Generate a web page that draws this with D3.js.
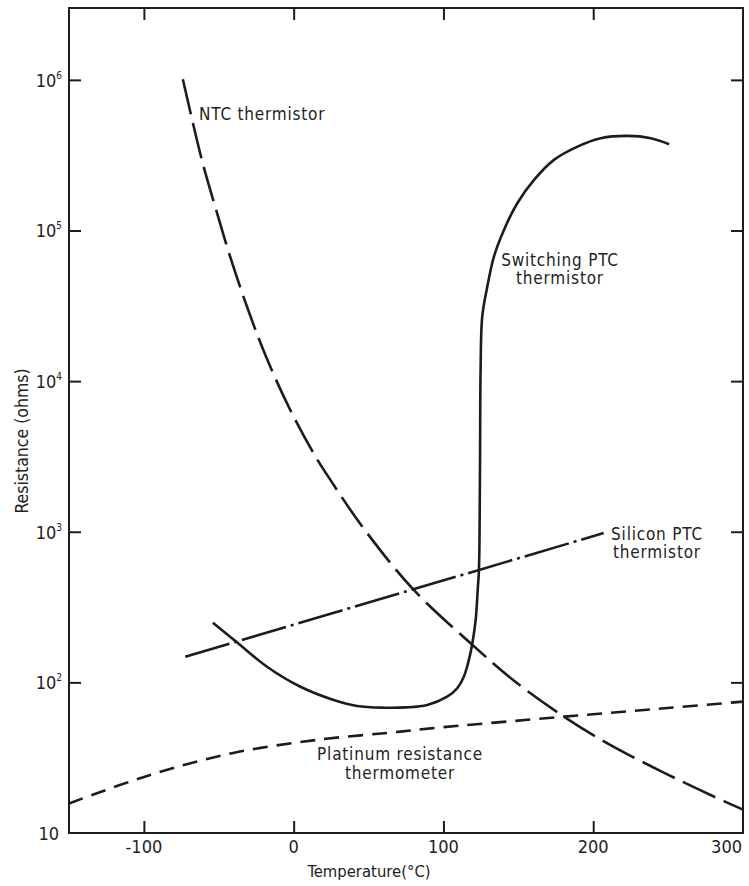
<!DOCTYPE html>
<html>
<head>
<meta charset="utf-8">
<script src="https://cdn.jsdelivr.net/npm/d3@7"></script>
<style>
  html, body { margin: 0; padding: 0; background: #fff; }
  svg { display: block; }
  text { font-family: "DejaVu Sans Condensed", "DejaVu Sans", sans-serif; fill: #222; }
</style>
</head>
<body>
<svg id="chart" width="749" height="886"></svg>
<script>
// Temperature (°C) / resistance (ohms) pairs for each sensor type
const ntcTemp = [-74, -61.3, -52.4, -42.4, -31.2, -18.9, -3.4, 13.3, 24.5, 46.8, 80.2, 118.1, 149.3, 180.5, 209.5, 247.4, 280.8, 300];
const ntcOhms = [1.01e6, 2.94e5, 1.44e5, 6.7e4, 3.13e4, 1.49e4, 6780, 3320, 2210, 1050, 411, 182, 98.6, 59.2, 39.4, 25.1, 17.4, 14.3];

const switchTemp = [-53.9, -38.3, -17.8, 4.5, 26.7, 42.4, 60, 75, 89.2, 102.5, 109.2, 113.6, 117.0, 119.3, 121.5, 123.0, 123.7, 124.4, 124.8, 125.9, 129.3, 133.7, 140.4, 149.3, 160.5, 173.8, 189.5, 205, 222.9, 238.5, 250.7];
const switchOhms = [249, 186, 127, 93.5, 76.4, 69.7, 67.9, 68.2, 70.8, 80.3, 91.4, 109.1, 140.9, 181.9, 259, 431, 557, 2570, 11860, 26800, 42400, 67100, 1.009e5, 1.517e5, 2.167e5, 2.942e5, 3.605e5, 4.1e5, 4.246e5, 4.1e5, 3.74e5];

const siliconTemp = [-72.4, 207];
const siliconOhms = [148, 980];

const platinumTemp = [-150, -95.8, -40.3, 15.6, 71.3, 91.4, 180.5, 247.4, 300];
const platinumOhms = [15.7, 24.3, 34.0, 41.5, 47.1, 49.5, 59.2, 67.3, 74.5];

const xTicks = [-100, 0, 100, 200, 300];
const yTicks = [1e2, 1e3, 1e4, 1e5, 1e6];
const yTickExp = ["2", "3", "4", "5", "6"];

const svg = d3.select("#chart");
const W = 749, H = 886;
const m = { top: 8, right: 6, bottom: 53, left: 69 };
const x = d3.scaleLinear().domain([-150, 300]).range([m.left, W - m.right]);
const y = d3.scaleLog().domain([10, 3e6]).range([H - m.bottom, m.top]);

const ink = "#1c1c1c";

// frame
svg.append("rect")
  .attr("x", m.left).attr("y", m.top)
  .attr("width", W - m.left - m.right).attr("height", H - m.top - m.bottom)
  .attr("fill", "none").attr("stroke", ink).attr("stroke-width", 2);

const tick = 12;
function styleAxis(g) {
  g.select(".domain").remove();
  g.selectAll(".tick line").attr("stroke", ink).attr("stroke-width", 2);
  g.selectAll(".tick text").remove();
}
// inward ticks on all four sides
svg.append("g").attr("transform", `translate(0,${H - m.bottom})`)
  .call(d3.axisBottom(x).tickValues(xTicks.slice(0, -1)).tickSize(-tick)).call(styleAxis);
svg.append("g").attr("transform", `translate(0,${m.top})`)
  .call(d3.axisTop(x).tickValues(xTicks.slice(0, -1)).tickSize(-tick)).call(styleAxis);
svg.append("g").attr("transform", `translate(${m.left},0)`)
  .call(d3.axisLeft(y).tickValues(yTicks).tickSize(-tick)).call(styleAxis);
svg.append("g").attr("transform", `translate(${W - m.right},0)`)
  .call(d3.axisRight(y).tickValues(yTicks).tickSize(-tick)).call(styleAxis);

// x tick labels (the last one is kept inside the page edge)
svg.append("g").selectAll("text").data(xTicks).join("text")
  .attr("x", d => d === 300 ? W - 7 : x(d)).attr("y", 853)
  .attr("text-anchor", d => d === 300 ? "end" : "middle").attr("font-size", 18)
  .text(d => d);

// y tick labels with superscript exponents
const yl = svg.append("g").selectAll("text").data(yTicks).join("text")
  .attr("x", 62).attr("y", d => y(d) + 7)
  .attr("text-anchor", "end").attr("font-size", 18);
yl.append("tspan").text("10");
yl.append("tspan").attr("dy", -8).attr("font-size", 10).text((d, i) => yTickExp[i]);
svg.append("text").attr("x", 59).attr("y", y(10) + 7)
  .attr("text-anchor", "end").attr("font-size", 18).text("10");

// axis titles
svg.append("text").attr("x", 369).attr("y", 877)
  .attr("text-anchor", "middle").attr("font-size", 16.5).text("Temperature(°C)");
svg.append("text")
  .attr("transform", "translate(28,441) rotate(-90)")
  .attr("text-anchor", "middle").attr("font-size", 17.5).text("Resistance (ohms)");

const zip = (a, b) => a.map((v, i) => [v, b[i]]);

function drawSeries(t, r, dash, curve) {
  const line = d3.line().x(d => x(d[0])).y(d => y(d[1])).curve(curve);
  svg.append("path")
    .datum(zip(t, r))
    .attr("d", line)
    .attr("fill", "none").attr("stroke", ink).attr("stroke-width", 2.6)
    .attr("stroke-dasharray", dash);
}
drawSeries(platinumTemp, platinumOhms, "15 9", d3.curveCatmullRom.alpha(0.5));
drawSeries(siliconTemp, siliconOhms, "46 5 3 5", d3.curveLinear);
drawSeries(ntcTemp, ntcOhms, "36 9", d3.curveCatmullRom.alpha(0.5));
drawSeries(switchTemp, switchOhms, null, d3.curveCatmullRom.alpha(0.5));

// curve labels
function label(lines, cx, y0, anchor) {
  const t = svg.append("text").attr("font-size", 17).attr("text-anchor", anchor || "middle")
    .attr("letter-spacing", 0.8);
  lines.forEach((s, i) => t.append("tspan").attr("x", cx).attr("y", y0 + i * 18.5).text(s));
}
label(["NTC thermistor"], 199, 119.5, "start");
label(["Switching PTC", "thermistor"], 560, 265.5);
label(["Silicon PTC", "thermistor"], 657, 539.5);
label(["Platinum resistance", "thermometer"], 400, 760);
</script>
</body>
</html>
